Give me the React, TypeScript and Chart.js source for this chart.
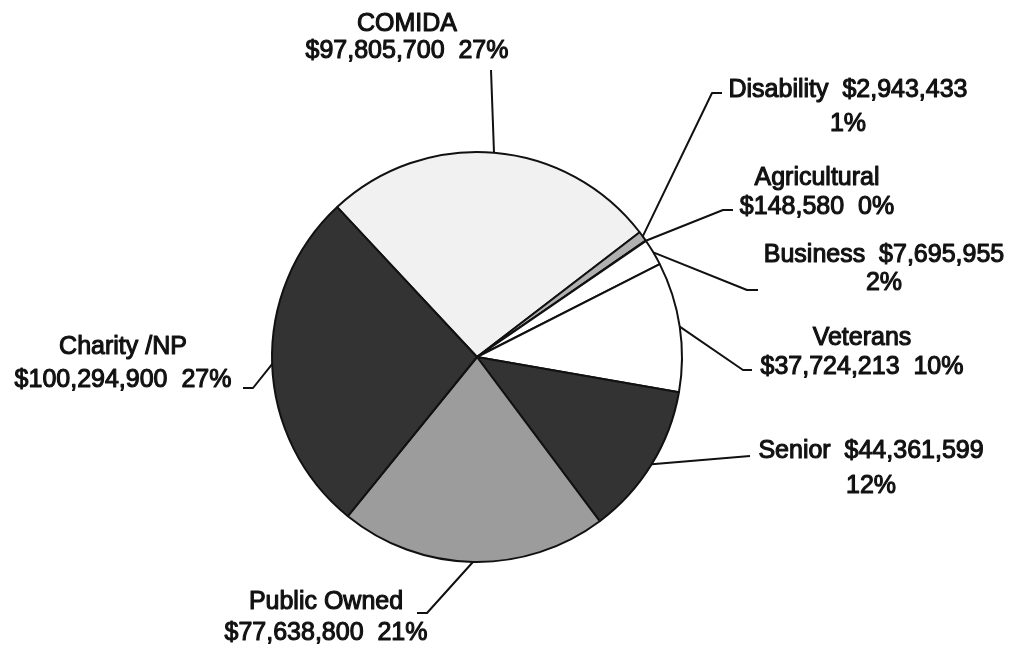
import React, { useEffect, useRef } from "react";
import { Chart, registerables } from "chart.js";

Chart.register(...registerables);

// ---- data ----
const categories = ["COMIDA", "Disability", "Agricultural", "Business", "Veterans", "Senior", "Public Owned", "Charity /NP"];
const amounts = [97805700, 2943433, 148580, 7695955, 37724213, 44361599, 77638800, 100294900];
const percentLabels = ["27%", "1%", "0%", "2%", "10%", "12%", "21%", "27%"];

// ---- style ----
const sliceColors = ["#f1f1f1", "#b0b0b0", "#d8d8d8", "#ffffff", "#ffffff", "#333333", "#9c9c9c", "#333333"];

const money = (v: number) => "$" + v.toLocaleString("en-US");

// text line composition per slice: "stack" => [name, amount pct] ; "inline" => [name amount, pct]
const labelModes = ["stack", "inline", "stack", "inline", "stack", "inline", "stack", "stack"];

// label placement (elbow point, end of leader, text centre x, line centres y)
const labelLayout = [
  { elbow: [491, 70], end: null, cx: 407, ys: [24, 51] },
  { elbow: [712, 93], end: [722, 93], cx: 848, ys: [90, 124] },
  { elbow: [723, 210], end: [733, 210], cx: 817, ys: [178, 207] },
  { elbow: [747, 290], end: [758, 290], cx: 884, ys: [255, 283] },
  { elbow: [743, 370], end: [752, 370], cx: 862, ys: [338, 367] },
  { elbow: [750, 456], end: null, cx: 871, ys: [451, 486] },
  { elbow: [427, 613], end: [417, 613], cx: 326, ys: [602, 633] },
  { elbow: [253, 388], end: [243, 388], cx: 123, ys: [347, 380] },
];

const labelPlugin = {
  id: "leaderLabels",
  afterDatasetsDraw(chart: any) {
    const ctx = chart.ctx;
    const meta = chart.getDatasetMeta(0);
    ctx.save();
    ctx.strokeStyle = "#111";
    ctx.fillStyle = "#111";
    ctx.font = "25px 'Liberation Sans', Arial, sans-serif";
    ctx.textAlign = "center";
    ctx.textBaseline = "middle";
    ctx.lineJoin = "round";
    meta.data.forEach((arc: any, i: number) => {
      const p = arc.getProps(["x", "y", "startAngle", "endAngle", "outerRadius"], true);
      const mid = (p.startAngle + p.endAngle) / 2;
      const sx = p.x + Math.cos(mid) * p.outerRadius;
      const sy = p.y + Math.sin(mid) * p.outerRadius;
      const L = labelLayout[i];
      ctx.lineWidth = 2;
      ctx.beginPath();
      ctx.moveTo(sx, sy);
      ctx.lineTo(L.elbow[0], L.elbow[1]);
      if (L.end) ctx.lineTo(L.end[0], L.end[1]);
      ctx.stroke();
      const lines =
        labelModes[i] === "stack"
          ? [categories[i], money(amounts[i]) + "  " + percentLabels[i]]
          : [categories[i] + "  " + money(amounts[i]), percentLabels[i]];
      lines.forEach((t, k) => {
        ctx.lineWidth = 1.1;
        ctx.strokeText(t, L.cx, L.ys[k]);
        ctx.fillText(t, L.cx, L.ys[k]);
      });
    });
    ctx.restore();
  },
};

export default function App() {
  const ref = useRef<HTMLCanvasElement | null>(null);
  useEffect(() => {
    if (!ref.current) return;
    const chart = new Chart(ref.current, {
      type: "pie",
      data: {
        labels: categories,
        datasets: [
          {
            data: amounts,
            backgroundColor: sliceColors,
            borderColor: "#111111",
            borderWidth: 2,
          },
        ],
      },
      options: {
        responsive: false,
        animation: false,
        rotation: -43,
        layout: { padding: { left: 271, top: 151, right: 336, bottom: 86 } },
        plugins: { legend: { display: false }, tooltip: { enabled: false } },
      },
      plugins: [labelPlugin],
    });
    return () => chart.destroy();
  }, []);
  return (
    <div style={{ position: "absolute", left: 0, top: 0, width: 1019, height: 649, background: "#fff" }}>
      <canvas ref={ref} width={1019} height={649} />
    </div>
  );
}
